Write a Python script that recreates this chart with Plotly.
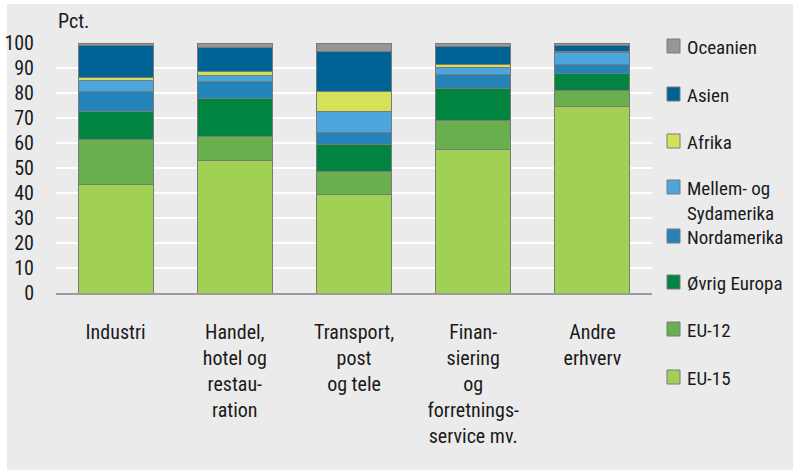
import plotly.graph_objects as go

categories = ["Industri", "Handel, hotel og restauration", "Transport, post og tele",
              "Finansiering og forretningsservice mv.", "Andre erhverv"]
tick_labels = ["Industri", "Handel,<br>hotel og<br>restau-<br>ration", "Transport,<br>post<br>og tele",
               "Finan-<br>siering<br>og<br>forretnings-<br>service mv.", "Andre<br>erhverv"]

series_names = ["EU-15", "EU-12", "Øvrig Europa", "Nordamerika", "Mellem- og Sydamerika",
                "Afrika", "Asien", "Oceanien"]
legend_labels = ["EU-15", "EU-12", "Øvrig Europa", "Nordamerika", "Mellem- og<br>Sydamerika",
                 "Afrika", "Asien", "Oceanien"]

eu15 = [43.5, 53.0, 39.5, 57.6, 74.6]
eu12 = [18.0, 9.8, 9.0, 11.6, 6.6]
ovrig_europa = [11.0, 15.0, 10.8, 12.6, 6.6]
nordamerika = [8.2, 7.0, 4.9, 5.5, 3.6]
mellem_sydamerika = [4.2, 2.3, 8.5, 3.1, 4.7]
afrika = [1.5, 1.7, 8.0, 1.0, 0.5]
asien = [12.8, 9.6, 15.8, 7.2, 2.6]
oceanien = [0.8, 1.5, 3.5, 1.4, 0.8]

series_values = [eu15, eu12, ovrig_europa, nordamerika, mellem_sydamerika, afrika, asien, oceanien]
colors = ["#a0d155", "#69af4e", "#00843f", "#2483b9", "#4aa6dc", "#d6e15a", "#006395", "#969696"]

y_ticks = list(range(0, 101, 10))

FONT = "Liberation Sans Narrow, Arial Narrow, Roboto Condensed, DejaVu Sans Condensed, sans-serif"
FS = 20
LFS = 19

fig = go.Figure()
for name, vals, col in zip(series_names, series_values, colors):
    fig.add_trace(go.Bar(
        x=categories, y=vals, name=name,
        marker=dict(color=col, line=dict(color="#7a7a7a", width=1)),
        showlegend=False,
    ))

W, H = 803, 470
L, R, T, B = 56, 151, 43, 177
pw, ph = W - L - R, H - T - B

def px(x):
    return (x - L) / pw

def py(y):
    return (H - B - y) / ph

shapes = [
    dict(type="rect", xref="paper", yref="paper", x0=px(7), x1=px(793), y0=py(470), y1=py(4),
         fillcolor="#ebebeb", line=dict(width=0), layer="below"),
]
annotations = [
    dict(text="Pct.", xref="paper", yref="paper", x=px(56), y=py(21), xanchor="left", yanchor="middle",
         showarrow=False, font=dict(family=FONT, size=FS, color="#1a1a1a")),
]

# legend rows, top to bottom (pixel centres of the swatches)
legend_rows = [46, 94, 141, 187, 236, 282, 329, 377]
for cy, lab, col in zip(legend_rows, reversed(legend_labels), reversed(colors)):
    shapes.append(dict(type="rect", xref="paper", yref="paper",
                       x0=px(667), x1=px(680), y0=py(cy + 7), y1=py(cy - 7),
                       fillcolor=col, line=dict(color="#7a7a7a", width=1)))
    annotations.append(dict(text=lab, xref="paper", yref="paper", x=px(685), y=py(cy - 12),
                            xanchor="left", yanchor="top", align="left", showarrow=False,
                            font=dict(family=FONT, size=LFS, color="#1a1a1a")))

fig.update_layout(
    width=W, height=H,
    margin=dict(l=L, r=R, t=T, b=B, pad=0),
    paper_bgcolor="white",
    plot_bgcolor="#dedede",
    barmode="stack",
    bargap=0.37,
    showlegend=False,
    font=dict(family=FONT, size=FS, color="#1a1a1a"),
    shapes=shapes,
    annotations=annotations,
    xaxis=dict(
        tickmode="array", tickvals=categories, ticktext=tick_labels,
        showgrid=False, showline=True, linecolor="#9a9a9a", linewidth=2,
        ticks="outside", ticklen=0, ticklabelstandoff=20, automargin=False,
        tickfont=dict(family=FONT, size=FS, color="#1a1a1a"),
    ),
    yaxis=dict(
        range=[0, 100], tickvals=y_ticks, showgrid=True, gridcolor="white", gridwidth=2,
        zeroline=False, showline=False, ticks="outside", ticklen=0, ticklabelstandoff=17,
        automargin=False,
        tickfont=dict(family=FONT, size=FS, color="#1a1a1a"),
    ),
)

fig.write_html("out.html", config={"displayModeBar": False},
               post_script="document.body.style.margin='0';document.body.style.padding='0';")
